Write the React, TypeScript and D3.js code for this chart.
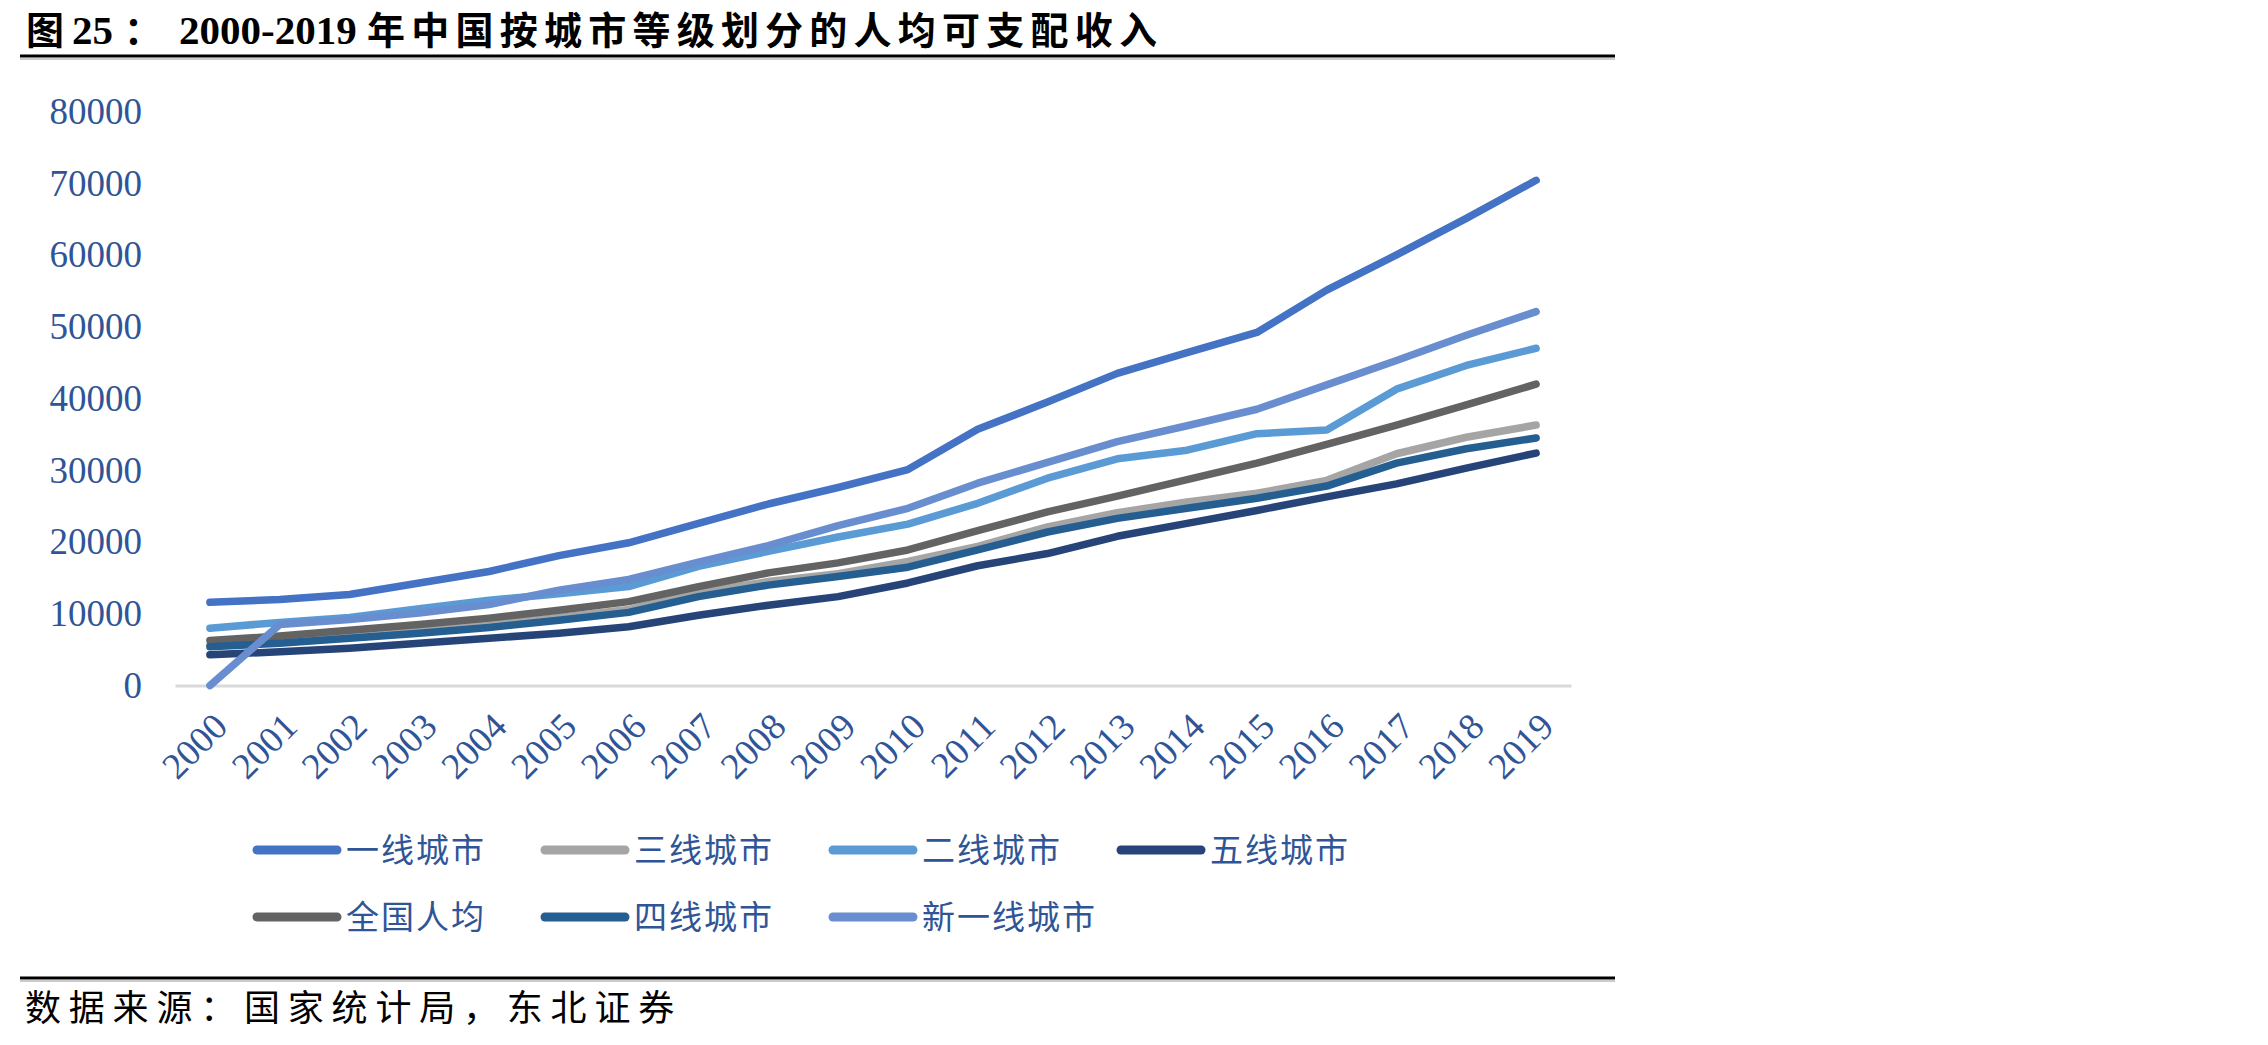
import React from 'react';
import * as d3 from 'd3';

const W = 2268;
const H = 1045;

const years = ['2000', '2001', '2002', '2003', '2004', '2005', '2006', '2007', '2008', '2009',
  '2010', '2011', '2012', '2013', '2014', '2015', '2016', '2017', '2018', '2019'];

const tier1 = [11600, 12000, 12700, 14300, 15900, 18100, 19900, 22600, 25300, 27600,
  30100, 35700, 39500, 43500, 46400, 49200, 55100, 60000, 65100, 70400];
const tier3 = [5700, 6200, 6900, 7600, 8500, 9500, 10600, 13000, 14500, 15600,
  17300, 19400, 22100, 24100, 25600, 26800, 28600, 32300, 34600, 36300];
const tier2 = [8000, 8800, 9500, 10700, 11900, 12800, 13800, 16600, 18700, 20700,
  22500, 25400, 28900, 31600, 32800, 35100, 35600, 41300, 44600, 47000];
const tier5 = [4300, 4700, 5200, 5900, 6600, 7300, 8200, 9800, 11200, 12400,
  14300, 16700, 18400, 20800, 22600, 24400, 26300, 28100, 30300, 32400];
const national = [6300, 6900, 7700, 8500, 9400, 10500, 11700, 13800, 15700, 17100,
  18900, 21600, 24200, 26400, 28700, 31000, 33600, 36300, 39100, 42000];
const tier4 = [5400, 5900, 6600, 7300, 8100, 9100, 10200, 12400, 14000, 15200,
  16500, 18900, 21400, 23300, 24700, 26100, 27800, 31000, 33000, 34500];
const newTier1 = [0, 8500, 9200, 10100, 11300, 13300, 14800, 17200, 19500, 22300,
  24700, 28200, 31100, 34000, 36200, 38500, 41900, 45300, 48800, 52100];

const seriesNames = ['一线城市', '三线城市', '二线城市', '五线城市', '全国人均', '四线城市', '新一线城市'];
const seriesColors = ['#4472C4', '#A5A5A5', '#5B9BD5', '#264478', '#636363', '#255E91', '#698ED0'];
const seriesValues = [tier1, tier3, tier2, tier5, national, tier4, newTier1];

const source = '数据来源：国家统计局，东北证券';

const labelColor = '#2F5597';
const serif = '"Liberation Serif", "Times New Roman", serif';
const cjk = '"Noto Sans CJK SC", "Liberation Serif", sans-serif';

const xScale = d3.scalePoint<string>().domain(years).range([175, 1571]).padding(0.5);
const yScale = d3.scaleLinear().domain([0, 80000]).range([685.6, 111.4]);

export default function App() {
  const xRef = React.useRef<SVGGElement>(null);
  const yRef = React.useRef<SVGGElement>(null);

  React.useEffect(() => {
    const gy = d3.select(yRef.current);
    gy.call(d3.axisLeft(yScale).tickValues(d3.range(0, 80001, 10000)).tickSize(0).tickPadding(0).tickFormat(d3.format('d')));
    gy.select('.domain').remove();
    gy.selectAll('text')
      .attr('font-family', serif)
      .attr('font-size', 37)
      .attr('fill', labelColor);

    const gx = d3.select(xRef.current);
    gx.call(d3.axisBottom(xScale).tickSize(0).tickSizeOuter(0));
    gx.select('.domain').attr('stroke', '#D9D9D9').attr('stroke-width', 3);
    gx.selectAll('text')
      .attr('font-family', serif)
      .attr('font-size', 37)
      .attr('fill', labelColor)
      .attr('text-anchor', 'end')
      .attr('y', 0)
      .attr('dy', '0.35em')
      .attr('transform', 'translate(10,34) rotate(-45)');
  }, []);

  const line = d3.line<number>()
    .x((_, i) => xScale(years[i]) as number)
    .y(d => yScale(d));

  const legendCols = [252, 540, 828, 1116];
  const legendRows = [850, 917];

  return (
    <svg width={W} height={H} viewBox={`0 0 ${W} ${H}`}
      style={{ position: 'absolute', left: 0, top: 0, background: '#fff' }}>
      <g fontWeight="bold" fill="#000">
        <text y={44}>
          <tspan x={26} fontFamily={cjk} fontSize={38}>图</tspan>
          <tspan x={72} fontFamily={serif} fontSize={41}>25</tspan>
          <tspan x={124} fontFamily={cjk} fontSize={38}>：</tspan>
          <tspan x={179} fontFamily={serif} fontSize={41}>2000-2019</tspan>
        </text>
        <text x={367} y={44} fontFamily={cjk} fontSize={38} textLength={790}
          lengthAdjust="spacing">年中国按城市等级划分的人均可支配收入</text>
      </g>
      <line x1={20} x2={1615} y1={56} y2={56} stroke="#000" strokeWidth={3} />
      <line x1={20} x2={1615} y1={59} y2={59} stroke="#999" strokeWidth={1} />

      <g ref={yRef} transform="translate(142,0)" />
      <g ref={xRef} transform={`translate(0,${yScale(0)})`} />

      <g fill="none" strokeWidth={7.5} strokeLinecap="round" strokeLinejoin="round">
        {seriesValues.map((vals, i) => (
          <path key={seriesNames[i]} d={line(vals) || ''} stroke={seriesColors[i]} />
        ))}
      </g>

      <g>
        {seriesNames.map((name, i) => {
          const x = legendCols[i % 4];
          const y = legendRows[Math.floor(i / 4)];
          return (
            <g key={name} transform={`translate(${x},${y})`}>
              <line x1={5} x2={85} y1={0} y2={0} stroke={seriesColors[i]} strokeWidth={9} strokeLinecap="round" />
              <text x={94} y={0} dy="0.36em" fontFamily={cjk} fontSize={33} fill={labelColor}
                letterSpacing={2}>{name}</text>
            </g>
          );
        })}
      </g>

      <line x1={20} x2={1615} y1={978} y2={978} stroke="#000" strokeWidth={3} />
      <line x1={20} x2={1615} y1={981} y2={981} stroke="#999" strokeWidth={1} />
      <text x={25} y={1021} fontFamily={cjk} fontSize={36} fill="#000"
        letterSpacing={7.8}>{source}</text>
    </svg>
  );
}
